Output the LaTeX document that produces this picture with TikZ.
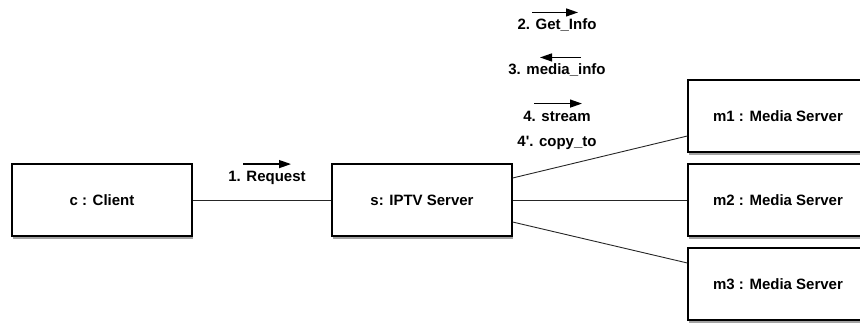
\documentclass[tikz,border=0pt]{standalone}
\usepackage{fontspec}
\setmainfont{Liberation Sans}
\usetikzlibrary{arrows.meta,shadows}

\tikzset{
  obj/.style={draw, line width=1.2pt, fill=white, minimum width=180pt,
    minimum height=72pt, font=\fontsize{15}{18}\selectfont\bfseries,
    drop shadow={shadow xshift=0.5pt, shadow yshift=-3pt, opacity=0.6,
      fill=black!60}},
  lbl/.style={font=\fontsize{15}{18}\selectfont\bfseries, inner sep=1pt},
  msg/.style={line width=1.3pt, -{Triangle[length=12pt,width=8pt]}},
  link/.style={line width=0.9pt, black!85}
}

\begin{document}
\begin{tikzpicture}[x=1pt,y=-1pt]
  \useasboundingbox (0,0) rectangle (860,322);

  \node (client) at (102,200) [obj] {c : Client};
  \node (iptv)   at (422,200) [obj] {s: IPTV Server};
  \node (m1)     at (778,116) [obj] {m1 : Media Server};
  \node (m2)     at (778,200) [obj] {m2 : Media Server};
  \node (m3)     at (778,284) [obj] {m3 : Media Server};

  \draw[link] (client) -- (iptv);
  \draw[link] ([yshift=22pt]iptv.east) -- ([yshift=-20pt]m1.west);
  \draw[link] (iptv) -- (m2);
  \draw[link] ([yshift=-22pt]iptv.east) -- ([yshift=21pt]m3.west);

  % message labels
  \node (request) at (267,178) [lbl] {1. Request};
  \node (getinfo) at (557,25)  [lbl] {2. Get\_Info};
  \node (mediainfo) at (557,70) [lbl] {3. media\_info};
  \node (stream)  at (557,116) [lbl] {4. stream};
  \node (copyto)  at (557,143) [lbl] {4\textquotesingle. copy\_to};

  \draw[msg] ([xshift=-24pt,yshift=6pt]request.north)
  -- ([xshift=24pt,yshift=6pt]request.north);
  \draw[msg] ([xshift=-25pt,yshift=5pt]getinfo.north)
  -- ([xshift=21pt,yshift=5pt]getinfo.north);
  \draw[msg] ([xshift=24pt,yshift=5pt]mediainfo.north)
  -- ([xshift=-17pt,yshift=5pt]mediainfo.north);
  \draw[msg] ([xshift=-23pt,yshift=6pt]stream.north)
  -- ([xshift=25pt,yshift=6pt]stream.north);
\end{tikzpicture}
\end{document}
